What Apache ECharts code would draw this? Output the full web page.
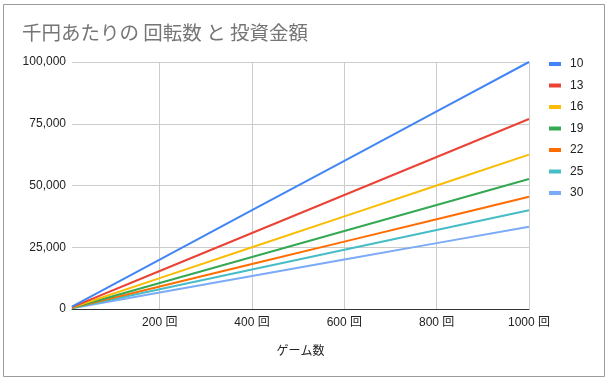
<!DOCTYPE html>
<html>
<head>
<meta charset="utf-8">
<script src="https://cdn.jsdelivr.net/npm/echarts@6/dist/echarts.min.js"></script>
<style>
html,body{margin:0;padding:0;background:#fff;}
#chart{width:609px;height:381px;}
</style>
</head>
<body>
<div id="chart"></div>
<script>
// Data
const titleText = '千円あたりの 回転数 と 投資金額';
const xAxisName = 'ゲーム数';
const games = [10, 200, 400, 600, 800, 1000];
const xTickValues = [200, 400, 600, 800, 1000];
const seriesNames = ['10', '13', '16', '19', '22', '25', '30'];
const v10 = [1000, 20000, 40000, 60000, 80000, 100000];
const v13 = [769, 15385, 30769, 46154, 61538, 76923];
const v16 = [625, 12500, 25000, 37500, 50000, 62500];
const v19 = [526, 10526, 21053, 31579, 42105, 52632];
const v22 = [455, 9091, 18182, 27273, 36364, 45455];
const v25 = [400, 8000, 16000, 24000, 32000, 40000];
const v30 = [333, 6667, 13333, 20000, 26667, 33333];
const seriesValues = [v10, v13, v16, v19, v22, v25, v30];
const colors = ['#4285F4', '#EA4335', '#FBBC04', '#34A853', '#FF6D01', '#46BDC6', '#7BAAF7'];

const FONT = '"Liberation Sans", Arial, "Noto Sans CJK JP", sans-serif';

const chart = echarts.init(document.getElementById('chart'), null, {renderer: 'canvas'});
chart.setOption({
  animation: false,
  color: colors,
  title: {
    text: titleText,
    left: 17,
    top: 18,
    textStyle: {
      fontFamily: '"Noto Sans CJK JP", sans-serif',
      fontSize: 19.5,
      fontWeight: 'normal',
      color: '#757575'
    }
  },
  graphic: [{
    type: 'rect',
    shape: {x: 3.5, y: 4.5, width: 601, height: 372},
    style: {fill: 'none', stroke: '#9a9a9a', lineWidth: 1},
    silent: true,
    z: 100
  }],
  legend: {
    orient: 'vertical',
    left: 544,
    top: 53,
    icon: 'rect',
    itemWidth: 12,
    itemHeight: 4,
    itemGap: 9.5,
    textStyle: {fontFamily: FONT, fontSize: 12, color: '#222', padding: [0, 0, 0, 4]},
    data: seriesNames
  },
  grid: {left: 72, right: 80, top: 62, bottom: 72, containLabel: false},
  xAxis: {
    type: 'value',
    min: 10,
    max: 1000,
    name: xAxisName,
    nameLocation: 'middle',
    nameGap: 37,
    nameTextStyle: {fontFamily: FONT, fontSize: 12, color: '#222'},
    axisLine: {show: true, lineStyle: {color: '#333', width: 1}},
    axisTick: {show: false, customValues: xTickValues},
    axisLabel: {
      customValues: xTickValues,
      fontFamily: FONT, fontSize: 12, color: '#222', margin: 8,
      formatter: v => v + ' 回'
    },
    splitLine: {show: true, lineStyle: {color: '#cccccc', width: 1}}
  },
  yAxis: {
    type: 'value',
    min: 0,
    max: 100000,
    interval: 25000,
    axisLine: {show: false},
    axisTick: {show: false},
    axisLabel: {
      fontFamily: FONT, fontSize: 12, color: '#222', margin: 6,
      formatter: v => v.toLocaleString('en-US')
    },
    splitLine: {show: true, lineStyle: {color: '#cccccc', width: 1}}
  },
  series: seriesNames.map((name, i) => ({
    name: name,
    type: 'line',
    data: games.map((g, j) => [g, seriesValues[i][j]]),
    showSymbol: false,
    symbol: 'none',
    lineStyle: {width: 2, color: colors[i]},
    itemStyle: {color: colors[i]},
    emphasis: {disabled: true},
    z: 10 - i
  }))
});
</script>
</body>
</html>
